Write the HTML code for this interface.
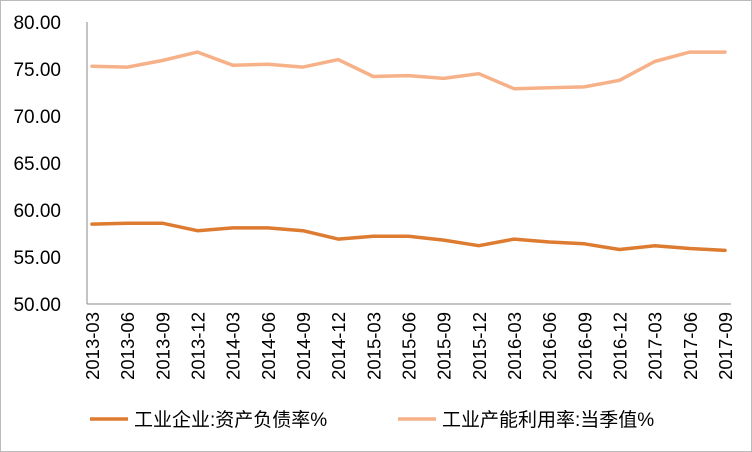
<!DOCTYPE html>
<html><head><meta charset="utf-8"><style>
html,body{margin:0;padding:0;background:#fff}
svg{display:block}
text{font-family:"Liberation Sans","Noto Sans CJK SC",sans-serif;fill:#000}
</style></head><body>
<svg id="c" width="752" height="452" viewBox="0 0 752 452">
<rect x="0.5" y="0.5" width="751" height="451" fill="#fff" stroke="#bbb"/>
</svg>
<script>
const categories=["2013-03","2013-06","2013-09","2013-12","2014-03","2014-06","2014-09","2014-12","2015-03","2015-06","2015-09","2015-12","2016-03","2016-06","2016-09","2016-12","2017-03","2017-06","2017-09"];
const debtRatio=[58.5,58.6,58.6,57.8,58.1,58.1,57.8,56.9,57.2,57.2,56.8,56.2,56.9,56.6,56.4,55.8,56.2,55.9,55.7];
const capacityUtil=[75.3,75.2,75.9,76.8,75.4,75.5,75.2,76.0,74.2,74.3,74.0,74.5,72.9,73.0,73.1,73.8,75.8,76.8,76.8];
const yTicks=[50,55,60,65,70,75,80];
const seriesNames=["工业企业:资产负债率%","工业产能利用率:当季值%"];
const NS="http://www.w3.org/2000/svg";
const svg=document.getElementById('c');
const X0=87,X1=731,Y0=304,Y1=22,PX0=92,PX1=725;
function xs(i){return PX0+(PX1-PX0)*i/(categories.length-1);}
function ys(v){return Y0-(v-50)/(80-50)*(Y0-Y1);}
function el(t,a,p){const e=document.createElementNS(NS,t);for(const k in a)e.setAttribute(k,a[k]);(p||svg).appendChild(e);return e;}
const ax=el('g',{});


const yl=el('line',{x1:X0,y1:Y1,x2:X0,y2:Y0,stroke:'#888','stroke-width':1},ax);


const xl=el('line',{x1:X0,y1:Y0,x2:X1,y2:Y0,stroke:'#888','stroke-width':1},ax);


yTicks.forEach(v=>{
  const t=el('text',{x:X0-26,y:ys(v)+7,'text-anchor':'end','font-size':19},ax);
  t.textContent=v.toFixed(2);
  
  
});
categories.forEach((c,i)=>{
  const x=xs(i);
  const t=el('text',{x:0,y:0,'text-anchor':'end','font-size':18.5,transform:`translate(${x+7},${Y0+8}) rotate(-90)`},ax);
  t.textContent=c;
  
  
});
function line(data,color,name){
  const d=data.map((v,i)=>(i?'L':'M')+xs(i).toFixed(1)+','+ys(v).toFixed(1)).join(' ');
  const p=el('path',{d:d,fill:'none',stroke:color,'stroke-width':3.5,'stroke-linejoin':'round','stroke-linecap':'round'});
  
  
}
line(capacityUtil,'#F7B188','series-capacity-utilization');
line(debtRatio,'#DD7B31','series-debt-ratio');
const lg=el('g',{});


[[90,'#DD7B31'],[398,'#F7B188']].forEach((a,i)=>{
  const g=el('g',{},lg);
  
  
  el('line',{x1:a[0],y1:419,x2:a[0]+38,y2:419,stroke:a[1],'stroke-width':3.5},g);
  const t=el('text',{x:a[0]+44,y:426,'font-size':19},g);
  t.textContent=seriesNames[i];
});
</script>
</body></html>
